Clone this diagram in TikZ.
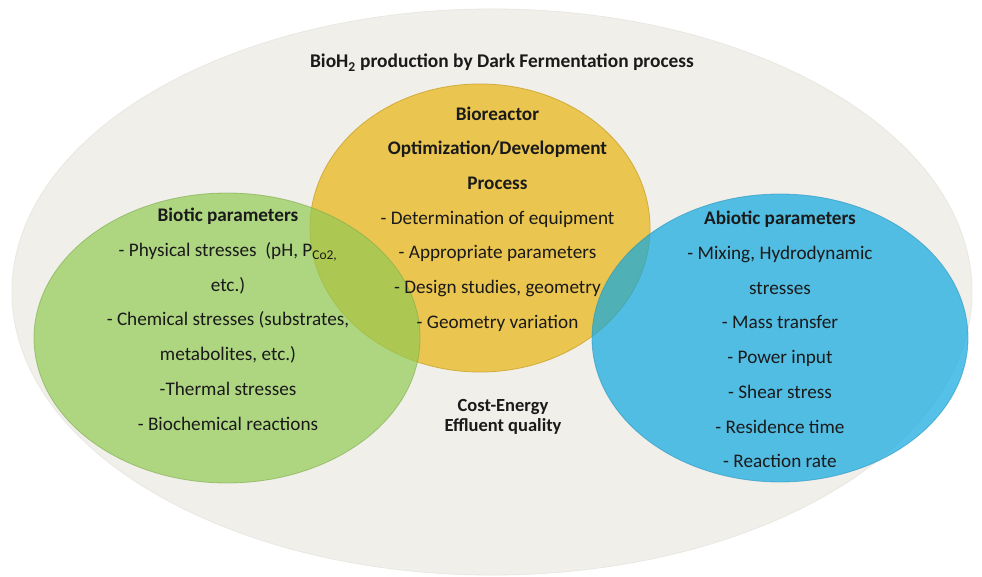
\documentclass[tikz,border=0pt]{standalone}
\usepackage{fontspec}
\setmainfont{Carlito}
\usetikzlibrary{shapes.geometric}
\definecolor{cream}{HTML}{F0EFEA}
\definecolor{creamedge}{HTML}{E9E7E1}
\definecolor{gold}{HTML}{EAC54F}
\definecolor{goldedge}{HTML}{D2AC3C}
\definecolor{leaf}{HTML}{92CA54}
\definecolor{leafedge}{HTML}{7DAA4A}
\definecolor{sky}{HTML}{0EA8E1}
\definecolor{skyedge}{HTML}{2A95BE}
\definecolor{ink}{HTML}{1A1A1A}
% bold heading line inside a text block
\newcommand\hdline[1]{{\bfseries #1}}
\begin{document}
\begin{tikzpicture}[x=1pt,y=-1pt,
  blob/.style={ellipse,inner sep=0pt,line width=0.8pt},
  % anchored at the baseline of the last line
  blocktext/.style={anchor=base,align=center,text=ink,inner sep=0pt,
    font=\fontsize{19.2}{34.7}\selectfont},
  plaintext/.style={anchor=base,text=ink,inner sep=0pt,
    font=\fontsize{#1}{19.5}\selectfont\bfseries}]
\useasboundingbox (0,0) rectangle (982,577);
\fill[white] (0,0) rectangle (982,577);

% outer process field
\node[blob,fill=cream,draw=creamedge,minimum width=960pt,minimum height=566pt] (field) at (492,292) {};

% central bioreactor circle
\node[blob,fill=gold,draw=goldedge,minimum width=340pt,minimum height=288pt] (reactor) at (480,228) {};
% biotic and abiotic circles, translucent over the centre
\node[blob,fill=leaf,fill opacity=0.7,draw=leafedge,draw opacity=0.6,minimum width=386pt,minimum height=290pt] (biotic) at (227,338) {};
\node[blob,fill=sky,fill opacity=0.7,draw=skyedge,draw opacity=0.6,minimum width=376pt,minimum height=288pt] (abiotic) at (780,338) {};

% texts
\node[plaintext=19.4] (title) at (502,68)
  {BioH\textsubscript{2} production by Dark Fermentation process};

\node[blocktext] (reactortext) at (497.5,328.3)
  {\hdline{Bioreactor}\\ \hdline{Optimization/Development}\\ \hdline{Process}\\
   - Determination of equipment\\ - Appropriate parameters\\
   - Design studies, geometry\\ - Geometry variation};

\node[blocktext] (biotictext) at (228,430)
  {\hdline{Biotic parameters}\\ - Physical stresses\ \ (pH, P\textsubscript{Co2,}\\ etc.)\\
   - Chemical stresses (substrates,\\ metabolites, etc.)\\ -Thermal stresses\\
   - Biochemical reactions};

\node[blocktext] (abiotictext) at (780,467.7)
  {\hdline{Abiotic parameters}\\ - Mixing, Hydrodynamic\\ stresses\\ - Mass transfer\\
   - Power input\\ - Shear stress\\ - Residence time\\ - Reaction rate};

\node[plaintext=18.5,align=center] (cost) at (503,431)
  {Cost-Energy\\ Effluent quality};
\end{tikzpicture}
\end{document}
